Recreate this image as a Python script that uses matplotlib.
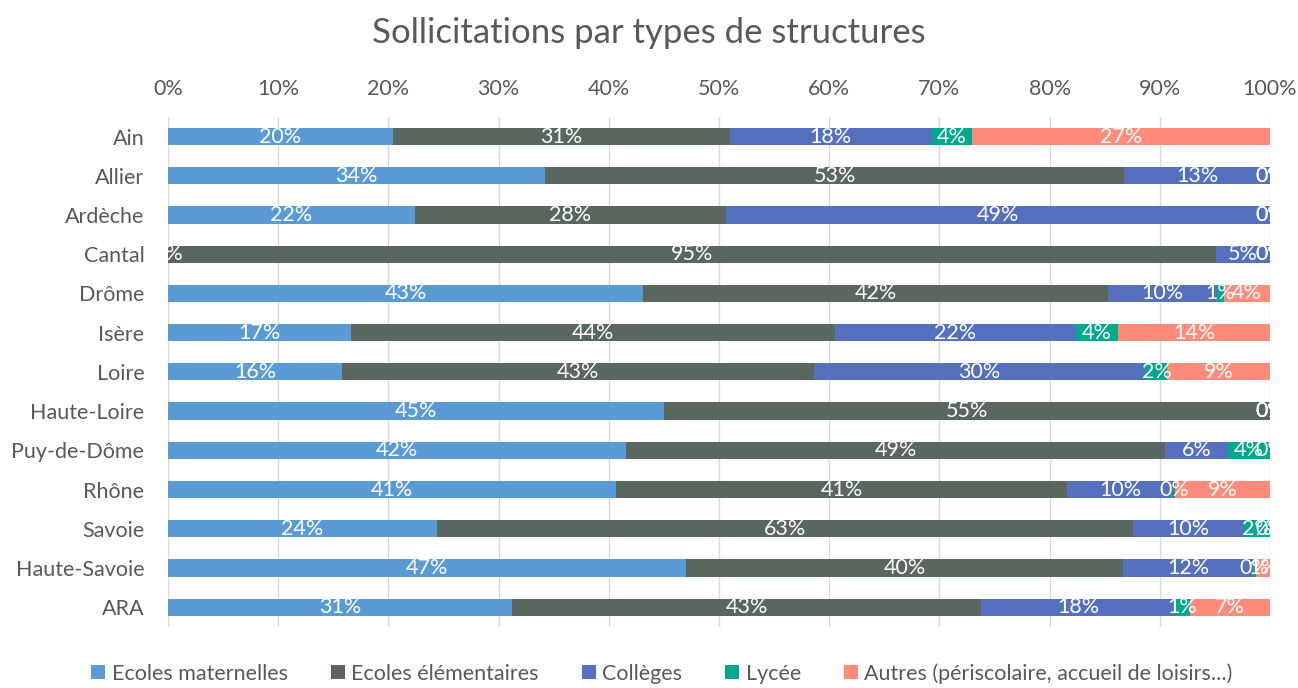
import matplotlib.pyplot as plt
import numpy as np

plt.rcParams['font.family'] = ['Lato', 'DejaVu Sans']

# Départements (de haut en bas)
departements = ["Ain", "Allier", "Ardèche", "Cantal", "Drôme", "Isère", "Loire",
                "Haute-Loire", "Puy-de-Dôme", "Rhône", "Savoie", "Haute-Savoie", "ARA"]

# Parts en % par type de structure
maternelles = [20.4, 34.2, 22.4, 0.0, 43.1, 16.6, 15.8, 45.0, 41.6, 40.7, 24.4, 47.0, 31.2]
elementaires = [30.6, 52.6, 28.2, 95.1, 42.2, 43.9, 42.8, 55.0, 48.9, 40.9, 63.2, 39.7, 42.6]
colleges = [18.3, 13.2, 49.4, 4.9, 9.9, 21.9, 30.1, 0.0, 5.7, 9.6, 10.0, 11.8, 17.6]
lycee = [3.7, 0.0, 0.0, 0.0, 0.6, 3.8, 2.0, 0.0, 3.8, 0.2, 2.4, 0.2, 1.3]
autres = [27.0, 0.0, 0.0, 0.0, 4.2, 13.8, 9.3, 0.0, 0.0, 8.6, 0.0, 1.3, 7.3]

series = [
    ("Ecoles maternelles", maternelles, "#5B9BD5"),
    ("Ecoles élémentaires", elementaires, "#59675F"),
    ("Collèges", colleges, "#5470BF"),
    ("Lycée", lycee, "#00A88C"),
    ("Autres (périscolaire, accueil de loisirs...)", autres, "#FF8C7A"),
]

gris = "#595959"

fig = plt.figure(figsize=(12.98, 6.88), dpi=100)
ax = fig.add_axes([0.1294, 0.089, 0.849, 0.741])

y = np.arange(len(departements))
gauche = np.zeros(len(departements))
for nom, valeurs, couleur in series:
    valeurs = np.array(valeurs)
    ax.barh(y, valeurs, left=gauche, height=0.44, color=couleur, label=nom, zorder=2)
    # étiquettes blanches au centre de chaque segment
    for yi, g, v in zip(y, gauche, valeurs):
        ax.text(g + v / 2, yi, f"{round(v)}%", ha="center", va="center",
                color="white", fontsize=15.5, zorder=3, clip_on=True)
    gauche += valeurs

ax.set_xlim(0, 100)
ax.set_ylim(len(departements) - 0.5, -0.5)
ax.set_yticks(y)
ax.set_yticklabels(departements)
ax.set_xticks(np.arange(0, 101, 10))
ax.set_xticklabels([f"{t}%" for t in range(0, 101, 10)])
ax.xaxis.tick_top()
ax.tick_params(axis="x", length=0, pad=13, labelsize=15.5, labelcolor=gris)
ax.tick_params(axis="y", length=0, pad=17, labelsize=15.5, labelcolor=gris)
ax.grid(axis="x", color="#D9D9D9", linewidth=1, zorder=0)
for s in ax.spines.values():
    s.set_visible(False)

fig.suptitle("Sollicitations par types de structures", fontsize=25, color=gris, y=0.975)

fig.legend(loc="lower center", ncol=5, bbox_to_anchor=(0.51, -0.022), frameon=False,
           fontsize=15.5, handlelength=0.65, handleheight=0.65, handletextpad=0.3,
           columnspacing=2.0, labelcolor=gris)

fig.savefig("out.png", dpi=100)
